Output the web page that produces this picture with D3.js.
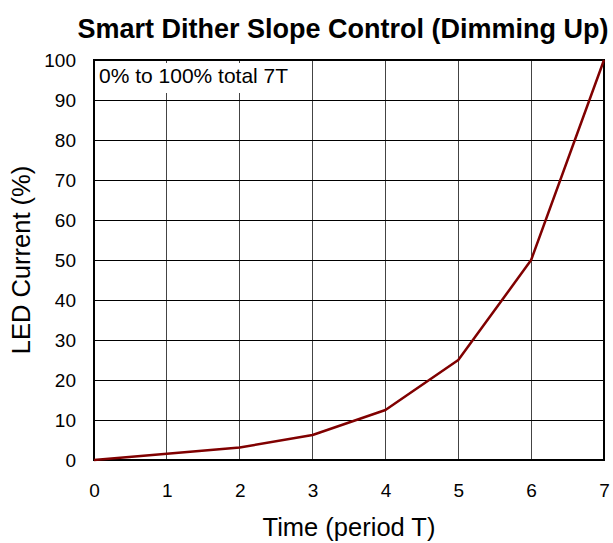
<!DOCTYPE html>
<html><head><meta charset="utf-8">
<script src="https://cdn.jsdelivr.net/npm/d3@7"></script>
<style>body{margin:0;background:#fff}svg{display:block}text{font-family:"Liberation Sans",Arial,Helvetica,sans-serif}</style>
</head><body><div id="chart"></div>
<script>
const periods = [0, 1, 2, 3, 4, 5, 6, 7];
const current = [0, 1.5625, 3.125, 6.25, 12.5, 25, 50, 100];
const xTicks = [0, 1, 2, 3, 4, 5, 6, 7];
const yTicks = [0, 10, 20, 30, 40, 50, 60, 70, 80, 90, 100];
const title = "Smart Dither Slope Control (Dimming Up)";
const xTitle = "Time (period T)";
const yTitle = "LED Current (%)";
const note = "0% to 100% total 7T";

const W = 613, H = 543;
const m = {left: 94, right: 9, top: 60, bottom: 83};
const svg = d3.select("#chart").append("svg").attr("width", W).attr("height", H);
const x = d3.scaleLinear().domain([0, 7]).range([m.left, W - m.right]);
const y = d3.scaleLinear().domain([0, 100]).range([H - m.bottom, m.top]);

// grid
svg.append("g").selectAll("line").data(xTicks.slice(1, -1)).join("line")
  .attr("x1", d => x(d)).attr("x2", d => x(d)).attr("y1", y(0)).attr("y2", y(100))
  .attr("stroke", "#444").attr("stroke-width", 1).attr("shape-rendering", "crispEdges");
svg.append("g").selectAll("line").data(yTicks.slice(1, -1)).join("line")
  .attr("y1", d => y(d)).attr("y2", d => y(d)).attr("x1", x(0)).attr("x2", x(7))
  .attr("stroke", "#000").attr("stroke-width", 1).attr("shape-rendering", "crispEdges");

// note box
const noteG = svg.append("g");
const nt = noteG.append("text").attr("x", x(0) + 5).attr("y", y(100) + 23)
  .attr("font-size", 21).attr("fill", "#000").text(note);
const bb = nt.node().getBBox();
noteG.insert("rect", "text").attr("x", x(0) + 2).attr("y", y(100) + 3)
  .attr("width", bb.width + 6).attr("height", 30).attr("fill", "#fff");

// frame
svg.append("rect").attr("x", x(0)).attr("y", y(100)).attr("width", x(7) - x(0)).attr("height", y(0) - y(100))
  .attr("fill", "none").attr("stroke", "#000").attr("stroke-width", 2);

// line
svg.append("path").datum(periods.map((p, i) => [p, current[i]]))
  .attr("fill", "none").attr("stroke", "#800000").attr("stroke-width", 2.5).attr("stroke-linejoin", "round")
  .attr("d", d3.line().x(d => x(d[0])).y(d => y(d[1])));

// axes
const xa = svg.append("g").attr("transform", `translate(0,${y(0)})`)
  .call(d3.axisBottom(x).tickValues(xTicks).tickSize(0).tickPadding(24).tickFormat(d3.format("d")));
const ya = svg.append("g").attr("transform", `translate(${x(0)},0)`)
  .call(d3.axisLeft(y).tickValues(yTicks).tickSize(0).tickPadding(18).tickFormat(d3.format("d")));
[xa, ya].forEach(a => {
  a.select(".domain").remove();
  a.selectAll("text").attr("font-size", 19).attr("fill", "#000")
    .style("font-family", '"Liberation Sans",Arial,sans-serif');
});

svg.append("text").attr("x", 343).attr("y", 38).attr("text-anchor", "middle")
  .attr("font-size", 27).attr("font-weight", "bold").text(title);
svg.append("text").attr("x", (x(0) + x(7)) / 2).attr("y", 536).attr("text-anchor", "middle")
  .attr("font-size", 25.5).text(xTitle);
svg.append("text").attr("transform", `translate(30,${(y(0) + y(100)) / 2}) rotate(-90)`)
  .attr("text-anchor", "middle").attr("font-size", 25.5).text(yTitle);
</script></body></html>
